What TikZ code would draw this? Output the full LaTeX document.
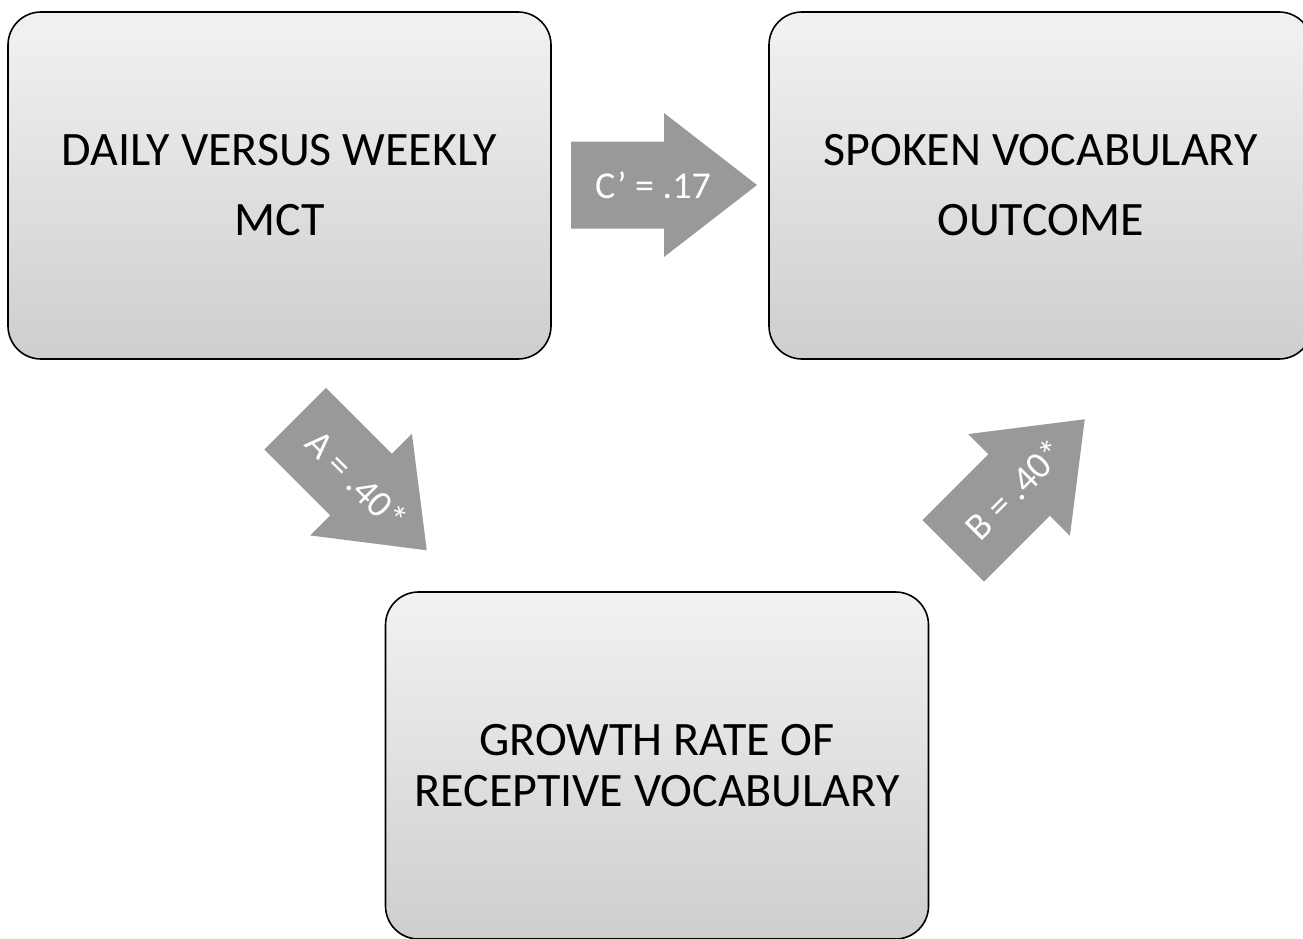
\documentclass[tikz,border=0pt]{standalone}
\usepackage{fontspec}
\setmainfont{Carlito}
\usetikzlibrary{positioning}

\definecolor{arrowgray}{RGB}{153,153,153}
\definecolor{boxtop}{RGB}{242,242,242}
\definecolor{boxbottom}{RGB}{206,206,206}

\tikzset{
  box/.style={draw=black, line width=1.6pt, rounded corners=33pt,
    top color=boxtop, bottom color=boxbottom,
    minimum width=543pt, minimum height=347pt, align=center, inner sep=0pt},
  widebox/.style={box, font=\fontsize{48}{70}\selectfont},
  tightbox/.style={box, font=\fontsize{48}{51}\selectfont},
  blockarrow/.style={fill=arrowgray, draw=none},
  arrowtext/.style={text=white, font=\fontsize{38}{40}\selectfont, inner sep=0pt}
}

\begin{document}
\begin{tikzpicture}[x=1pt, y=-1pt]
  \useasboundingbox (0,0) rectangle (1303,939);

  % the three variables
  \node[widebox] (mct) at (279.5,185.5) {DAILY VERSUS WEEKLY\\MCT};
  \node[widebox] (spoken) at (1040.5,185.5) {SPOKEN VOCABULARY\\OUTCOME};
  \node[tightbox] (growth) at (657,765.5) {GROWTH RATE OF\\RECEPTIVE VOCABULARY};

  % paths between them
  \begin{scope}[shift={(664,185)}]
    \fill[blockarrow] (-93,-43.5) -- (0,-43.5) -- (0,-72) -- (93,0) -- (0,72) -- (0,43.5) -- (-93,43.5) -- cycle;
    \node[arrowtext] (cpath) at (-11,0) {C’ = .17};
  \end{scope}
  \begin{scope}[shift={(361,484.5)}, rotate=-45]
    \fill[blockarrow] (-93,-43.5) -- (0,-43.5) -- (0,-72) -- (93,0) -- (0,72) -- (0,43.5) -- (-93,43.5) -- cycle;
    \node[arrowtext, rotate=-45] (apath) at (-6,0) {A = .40*};
  \end{scope}
  \begin{scope}[shift={(1019,485)}, rotate=45]
    \fill[blockarrow] (-93,-43.5) -- (0,-43.5) -- (0,-72) -- (93,0) -- (0,72) -- (0,43.5) -- (-93,43.5) -- cycle;
    \node[arrowtext, rotate=45] (bpath) at (-6,0) {B = .40*};
  \end{scope}
\end{tikzpicture}
\end{document}
